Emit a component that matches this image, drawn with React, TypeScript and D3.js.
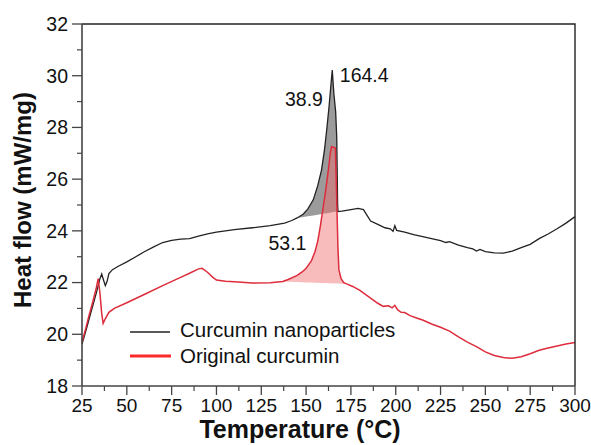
import * as d3 from 'd3'

// DSC curves, [temperature °C, heat flow mW/mg]
const nanoParticles: [number, number][] = [
  [25, 19.62], [27, 20.1], [29, 20.6], [31, 21.1], [33, 21.6], [35, 22.15], [36, 22.33], [37, 22.1],
  [38, 21.88], [39, 22.05], [40, 22.35], [42, 22.5], [45, 22.62], [50, 22.8], [55, 23.0], [60, 23.2],
  [65, 23.38], [70, 23.55], [75, 23.63], [80, 23.68], [85, 23.7], [90, 23.8], [95, 23.88], [100, 23.95],
  [110, 24.05], [120, 24.12], [130, 24.2], [138, 24.3], [142, 24.4], [145, 24.5], [148.5, 24.65],
  [151, 24.85], [154, 25.2], [156.5, 25.75], [158.6, 26.35], [160.2, 27.1], [161.5, 27.9], [162.8, 28.8],
  [163.8, 29.6], [164.6, 30.22], [165.5, 29.3], [166.5, 28.6], [167.1, 27.6], [167.4, 26.0], [167.6, 25.0],
  [167.8, 24.75], [170, 24.76], [175, 24.82], [179, 24.87], [182, 24.82], [184, 24.6], [186, 24.38],
  [190, 24.25], [194, 24.12], [197, 24.08], [198.5, 23.98], [199.5, 24.2], [200.5, 24.02], [205, 23.95],
  [210, 23.85], [215, 23.78], [220, 23.7], [225, 23.62], [228, 23.55], [230, 23.58], [235, 23.45],
  [240, 23.35], [243, 23.3], [245, 23.22], [247, 23.28], [250, 23.2], [255, 23.15], [260, 23.14],
  [265, 23.22], [270, 23.35], [275, 23.48], [280, 23.7], [285, 23.88], [290, 24.08], [295, 24.3], [300, 24.55],
]

const original: [number, number][] = [
  [25, 19.7], [27, 20.2], [29, 20.75], [31, 21.25], [33, 21.8], [34, 22.15], [35, 21.6], [36, 20.8],
  [36.8, 20.42], [38, 20.6], [40, 20.85], [43, 21.0], [50, 21.22], [60, 21.55], [70, 21.88], [80, 22.2],
  [85, 22.36], [90, 22.53], [92, 22.55], [95, 22.4], [98, 22.2], [100, 22.1], [105, 22.05], [110, 22.03],
  [120, 21.98], [130, 21.99], [137, 22.04], [140, 22.12], [145, 22.28], [148, 22.42], [150, 22.55],
  [153, 22.85], [155, 23.2], [156.5, 23.6], [158, 24.2], [159.5, 24.9], [161, 25.6], [162.5, 26.4],
  [163.5, 27.0], [164.2, 27.26], [166.3, 27.2], [166.8, 26.0], [167.3, 24.6], [167.8, 23.3], [168.3, 22.5],
  [169.5, 22.15], [171, 22.0], [172.6, 21.95], [176, 21.85], [180, 21.7], [185, 21.45], [190, 21.2],
  [193, 21.08], [196, 21.1], [198, 21.02], [199.5, 21.12], [201, 20.95], [203, 20.85], [205, 20.84],
  [208, 20.72], [212, 20.62], [215, 20.55], [220, 20.4], [225, 20.27], [230, 20.12], [235, 19.9],
  [240, 19.7], [245, 19.52], [250, 19.32], [255, 19.18], [260, 19.1], [265, 19.07], [270, 19.13],
  [275, 19.25], [280, 19.38], [285, 19.47], [290, 19.55], [295, 19.62], [300, 19.68],
]

// integrated peak ranges
const nanoPeakRange: [number, number] = [145, 167.8]
const origPeakRange: [number, number] = [137, 172.6]

const xTicks = d3.range(25, 301, 25)
const xMinor = d3.range(37.5, 300, 25)
const yTicks = d3.range(18, 33, 2)
const yMinor = d3.range(19, 32, 2)

const annotations = [
  { t: 159.4, v: 28.83, text: '38.9', anchor: 'end' },
  { t: 168.8, v: 29.75, text: '164.4', anchor: 'start' },
  { t: 139.6, v: 23.26, text: '53.1', anchor: 'middle' },
]

const font = '"Liberation Sans", Arial, Helvetica, sans-serif'

export default function App() {
  const margin = { top: 24, right: 16, bottom: 59, left: 82 }
  const W = 591, H = 445
  const x = d3.scaleLinear().domain([25, 300]).range([margin.left, W - margin.right])
  const y = d3.scaleLinear().domain([18, 32]).range([H - margin.bottom, margin.top])

  const line = d3.line<[number, number]>().x(d => x(d[0])).y(d => y(d[1]))

  const peakArea = (data: [number, number][], range: [number, number]) => {
    const pts = data.filter(d => d[0] >= range[0] && d[0] <= range[1])
    const a = pts[0], b = pts[pts.length - 1]
    const base = d3.scaleLinear().domain([a[0], b[0]]).range([a[1], b[1]])
    return d3.area<[number, number]>()
      .x(d => x(d[0]))
      .y0(d => y(base(d[0])))
      .y1(d => y(d[1]))(pts) || ''
  }

  const x0 = margin.left, x1 = W - margin.right
  const y0 = H - margin.bottom, y1 = margin.top

  return (
    <svg width={W} height={H} style={{ position: 'absolute', left: 0, top: 0, background: '#fff' }} fontFamily={font}>
      {/* peak fills */}
      <path d={peakArea(nanoParticles, nanoPeakRange)} fill="#7a7a7a" opacity={0.75} />
      <path d={peakArea(original, origPeakRange)} fill="#f06a6a" opacity={0.45} />

      <path d={line(nanoParticles) || ''} fill="none" stroke="#222" strokeWidth={1.3} />
      <path d={line(original) || ''} fill="none" stroke="#dd2c3c" strokeWidth={1.5} />

      {/* frame */}
      <path d={`M${x0},${y1}H${x1}V${y0}`} fill="none" stroke="#222" strokeWidth={1.4} />
      <line x1={x0} x2={x0} y1={y1} y2={y0} stroke="#444" strokeWidth={1.6} />
      <line x1={x0} x2={x1} y1={y0} y2={y0} stroke="#444" strokeWidth={1.6} />

      {/* x ticks */}
      {xTicks.map(t => (
        <g key={'x' + t}>
          <line x1={x(t)} x2={x(t)} y1={y0} y2={y0 + 9} stroke="#444" strokeWidth={1.3} />
          <text x={x(t)} y={y0 + 26} textAnchor="middle" fontSize={19} fill="#111">{t}</text>
        </g>
      ))}
      {xMinor.map(t => (
        <line key={'xm' + t} x1={x(t)} x2={x(t)} y1={y0} y2={y0 + 5} stroke="#444" strokeWidth={1.2} />
      ))}

      {/* y ticks */}
      {yTicks.map(t => (
        <g key={'y' + t}>
          <line x1={x0 - 10} x2={x0} y1={y(t)} y2={y(t)} stroke="#444" strokeWidth={1.3} />
          <text x={x0 - 14} y={y(t)} dy="0.35em" textAnchor="end" fontSize={19.5} fill="#111">{t}</text>
        </g>
      ))}
      {yMinor.map(t => (
        <line key={'ym' + t} x1={x0 - 5} x2={x0} y1={y(t)} y2={y(t)} stroke="#444" strokeWidth={1.2} />
      ))}

      {/* peak labels */}
      {annotations.map(a => (
        <text key={a.text} x={x(a.t)} y={y(a.v)} textAnchor={a.anchor as any} fontSize={19.5} fill="#111">{a.text}</text>
      ))}

      {/* legend */}
      <line x1={130} x2={170} y1={332} y2={332} stroke="#222" strokeWidth={1.3} />
      <text x={180} y={337} fontSize={20.5} fill="#111">Curcumin nanoparticles</text>
      <line x1={130} x2={171} y1={356} y2={356} stroke="#ff2a2a" strokeWidth={3} />
      <text x={180} y={363} fontSize={20.5} fill="#111">Original curcumin</text>

      {/* axis titles */}
      <text x={300} y={438} textAnchor="middle" fontSize={25} fontWeight="bold" fill="#111">Temperature (°C)</text>
      <text transform="translate(31,200) rotate(-90)" textAnchor="middle" fontSize={24} fontWeight="bold" fill="#111">Heat flow (mW/mg)</text>
    </svg>
  )
}
